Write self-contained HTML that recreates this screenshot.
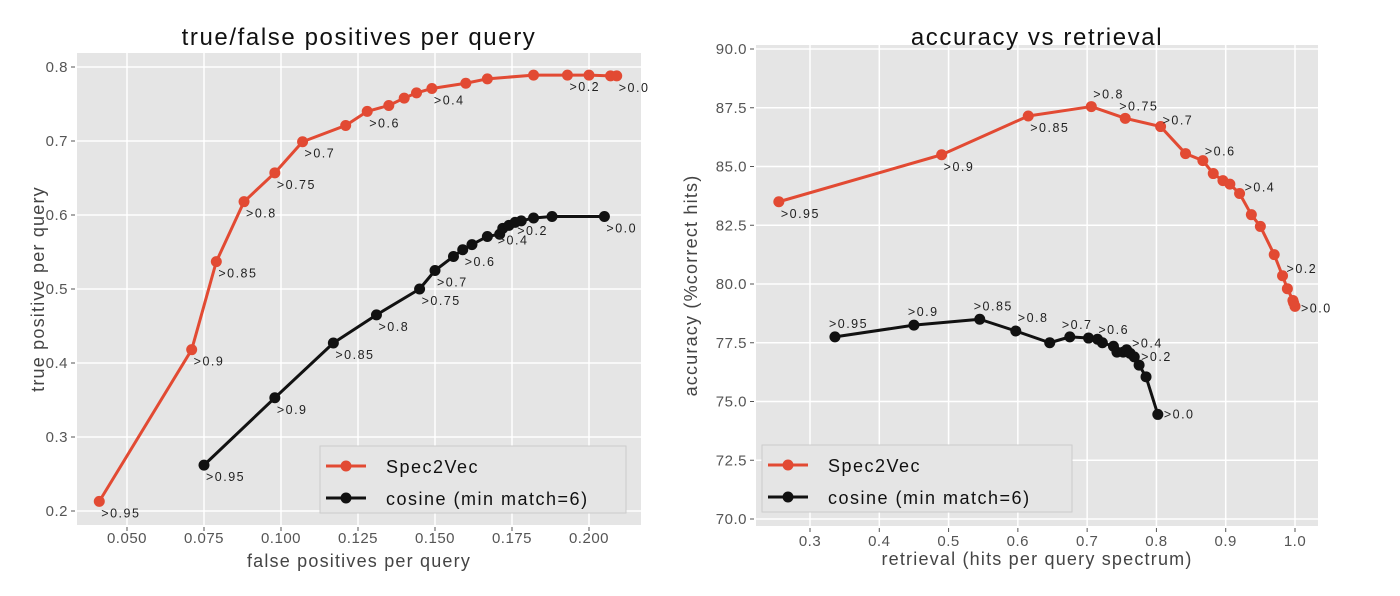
<!DOCTYPE html>
<html><head><meta charset="utf-8"><style>
html,body{margin:0;padding:0;background:#fff;}
svg{display:block;}
text{font-family:"Liberation Sans",sans-serif;}
</style></head><body>
<svg id="chart" width="1400" height="596" viewBox="0 0 1400 596" xmlns="http://www.w3.org/2000/svg"></svg>
<script>
// Left chart data
const leftRedX=[0.041,0.071,0.079,0.088,0.098,0.107,0.121,0.128,0.135,0.140,0.144,0.149,0.160,0.167,0.182,0.193,0.200,0.207,0.209];
const leftRedY=[0.213,0.418,0.537,0.618,0.657,0.699,0.721,0.740,0.748,0.758,0.765,0.771,0.778,0.784,0.789,0.789,0.789,0.788,0.788];
const leftRedLabels=[">0.95",">0.9",">0.85",">0.8",">0.75",">0.7","",">0.6","","","",">0.4","","","",">0.2","","",">0.0"];
const leftBlkX=[0.075,0.098,0.117,0.131,0.145,0.150,0.156,0.159,0.162,0.167,0.171,0.172,0.174,0.176,0.178,0.182,0.188,0.205];
const leftBlkY=[0.262,0.353,0.427,0.465,0.500,0.525,0.544,0.553,0.560,0.571,0.574,0.582,0.586,0.590,0.592,0.596,0.598,0.598];
const leftBlkLabels=[">0.95",">0.9",">0.85",">0.8",">0.75",">0.7","",">0.6","","","",">0.4","","",">0.2","","",">0.0"];
const leftXTicks=[0.05,0.075,0.1,0.125,0.15,0.175,0.2];
const leftXTickLabels=["0.050","0.075","0.100","0.125","0.150","0.175","0.200"];
const leftYTicks=[0.2,0.3,0.4,0.5,0.6,0.7,0.8];
const leftYTickLabels=["0.2","0.3","0.4","0.5","0.6","0.7","0.8"];
// Right chart data
const rightRedX=[0.255,0.49,0.615,0.706,0.755,0.806,0.842,0.867,0.882,0.896,0.906,0.92,0.937,0.95,0.97,0.982,0.989,0.997,0.998,1.0];
const rightRedY=[83.5,85.5,87.15,87.55,87.05,86.7,85.55,85.25,84.7,84.4,84.25,83.85,82.95,82.45,81.25,80.35,79.8,79.3,79.2,79.05];
const rightRedLabels=[">0.95",">0.9",">0.85",">0.8",">0.75",">0.7","",">0.6","","","",">0.4","","","",">0.2","","","",">0.0"];
const rightBlkX=[0.336,0.45,0.545,0.597,0.646,0.675,0.702,0.715,0.722,0.738,0.743,0.752,0.757,0.762,0.768,0.775,0.785,0.802];
const rightBlkY=[77.75,78.25,78.5,78.0,77.5,77.75,77.7,77.65,77.5,77.35,77.1,77.1,77.2,77.05,76.9,76.55,76.05,74.45];
const rightBlkLabels=[">0.95",">0.9",">0.85",">0.8","",">0.7","","",">0.6","","","","",">0.4","",">0.2","",">0.0"];
const rightXTicks=[0.3,0.4,0.5,0.6,0.7,0.8,0.9,1.0];
const rightXTickLabels=["0.3","0.4","0.5","0.6","0.7","0.8","0.9","1.0"];
const rightYTicks=[70,72.5,75,77.5,80,82.5,85,87.5,90];
const rightYTickLabels=["70.0","72.5","75.0","77.5","80.0","82.5","85.0","87.5","90.0"];

const svg=document.getElementById('chart');
const NS='http://www.w3.org/2000/svg';
function mk(tag,attrs,parent){const e=document.createElementNS(NS,tag);for(const k in attrs)e.setAttribute(k,attrs[k]);(parent||svg).appendChild(e);return e;}
function txt(s,attrs,parent){const e=mk('text',attrs,parent);e.textContent=s;return e;}

function panel(cfg){
  const g=mk('g',{});
  
  
  const sx=v=>cfg.x0+(v-cfg.xmin)/(cfg.xmax-cfg.xmin)*(cfg.x1-cfg.x0);
  const sy=v=>cfg.y0+(v-cfg.ymin)/(cfg.ymax-cfg.ymin)*(cfg.y1-cfg.y0);
  const bg=mk('rect',{x:cfg.L,y:cfg.T,width:cfg.R-cfg.L,height:cfg.B-cfg.T,fill:'#e5e5e5'},g);
  
  
  cfg.xt.forEach((v,i)=>{
    const x=sx(v);
    mk('line',{x1:x,x2:x,y1:cfg.T,y2:cfg.B,stroke:'#fff','stroke-width':1.5},g);
    mk('line',{x1:x,x2:x,y1:cfg.B+2,y2:cfg.B+6,stroke:'#555','stroke-width':1},g);
    const t=txt(cfg.xtl[i],{x:x,y:cfg.B+cfg.xto,'text-anchor':'middle','font-size':15,fill:'#555','letter-spacing':'0.5'},g);
    
    
  });
  cfg.yt.forEach((v,i)=>{
    const y=sy(v);
    mk('line',{x1:cfg.L,x2:cfg.R,y1:y,y2:y,stroke:'#fff','stroke-width':1.5},g);
    mk('line',{x1:cfg.L-6,x2:cfg.L-2,y1:y,y2:y,stroke:'#555','stroke-width':1},g);
    const t=txt(cfg.ytl[i],{x:cfg.L-9,y:y+5,'text-anchor':'end','font-size':15,fill:'#555','letter-spacing':'0.5'},g);
    
    
  });
  cfg.series.forEach(s=>{
    const sg=mk('g',{},g);
    
    
    const pts=s.x.map((v,i)=>sx(v)+','+sy(s.y[i])).join(' ');
    mk('polyline',{points:pts,fill:'none',stroke:s.color,'stroke-width':3,'stroke-linejoin':'round'},sg);
    s.x.forEach((v,i)=>{
      const c=mk('circle',{cx:sx(v),cy:sy(s.y[i]),r:5.5,fill:s.color},sg);
      
      
      if(s.labels[i]){
        const off=(s.off&&s.off[i])||[2,16];
        const t=txt(s.labels[i],{x:sx(v)+off[0],y:sy(s.y[i])+off[1],'font-size':12.5,fill:'#222','letter-spacing':'1.5'},sg);
        
        
      }
    });
  });
  const tt=txt(cfg.title,{x:(cfg.L+cfg.R)/2,y:45,'text-anchor':'middle','font-size':24,fill:'#111','letter-spacing':'1.6'},g);
  
  
  const xl=txt(cfg.xlabel,{x:(cfg.L+cfg.R)/2,y:cfg.B+cfg.xlo,'text-anchor':'middle','font-size':18,fill:'#444','letter-spacing':'1.2'},g);
  
  
  const yl=txt(cfg.ylabel,{x:0,y:0,'text-anchor':'middle','font-size':18,fill:'#444','letter-spacing':'1.2',transform:'translate('+cfg.ylx+','+((cfg.T+cfg.B)/2)+') rotate(-90)'},g);
  
  
  const lg=mk('g',{},g);
  
  
  mk('rect',{x:cfg.lx,y:cfg.ly,width:cfg.lw,height:67,fill:'#e5e5e5',stroke:'#ccc','stroke-width':1},lg);
  cfg.series.forEach((s,i)=>{
    const y=cfg.ly+20+i*32;
    const e=mk('g',{},lg);
    
    
    mk('line',{x1:cfg.lx+6,x2:cfg.lx+46,y1:y,y2:y,stroke:s.color,'stroke-width':3},e);
    mk('circle',{cx:cfg.lx+26,cy:y,r:5.5,fill:s.color},e);
    txt(s.legend,{x:cfg.lx+66,y:y+7,'font-size':18,fill:'#111','letter-spacing':'1.5'},e);
  });
}

const RED='#e24a33', BLK='#111';
panel({name:'left-chart',L:77,R:641,T:53,B:525,xto:18,xlo:42,
  xmin:0.05,xmax:0.2,x0:127,x1:589,ymin:0.8,ymax:0.2,y0:67,y1:511,
  xt:leftXTicks,xtl:leftXTickLabels,yt:leftYTicks,ytl:leftYTickLabels,
  title:'true/false positives per query',xlabel:'false positives per query',ylabel:'true positive per query',ylx:44,
  lx:320,ly:446,lw:306,
  series:[
    {name:'series-spec2vec',color:RED,x:leftRedX,y:leftRedY,labels:leftRedLabels,legend:'Spec2Vec',
     off:{18:[2,16]}},
    {name:'series-cosine',color:BLK,x:leftBlkX,y:leftBlkY,labels:leftBlkLabels,legend:'cosine (min match=6)',
     off:{14:[-4,14],11:[-5,16]}}
  ]});
panel({name:'right-chart',L:756,R:1318,T:45,B:526,xto:20,xlo:39,
  xmin:0.3,xmax:1.0,x0:810,x1:1295,ymin:90,ymax:70,y0:49,y1:519,
  xt:rightXTicks,xtl:rightXTickLabels,yt:rightYTicks,ytl:rightYTickLabels,
  title:'accuracy vs retrieval',xlabel:'retrieval (hits per query  spectrum)',ylabel:'accuracy  (%correct hits)',ylx:697,
  lx:762,ly:445,lw:310,
  series:[
    {name:'series-spec2vec',color:RED,x:rightRedX,y:rightRedY,labels:rightRedLabels,legend:'Spec2Vec',
     off:{3:[2,-8],4:[-6,-8],5:[2,-2],7:[2,-5],11:[5,-2],15:[4,-3],19:[6,6]}},
    {name:'series-cosine',color:BLK,x:rightBlkX,y:rightBlkY,labels:rightBlkLabels,legend:'cosine (min match=6)',
     off:{0:[-6,-9],1:[-6,-9],2:[-6,-9],3:[2,-9],5:[-8,-8],8:[-4,-9],13:[2,-6],15:[2,-4],17:[6,4]}}
  ]});
</script>
</body></html>
